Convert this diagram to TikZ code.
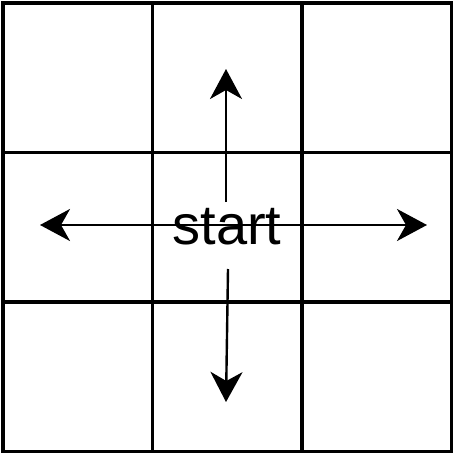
\documentclass[tikz,border=0pt]{standalone}
\usepackage{fontspec}
\setmainfont{Liberation Sans}
\usetikzlibrary{arrows.meta}
\newcommand{\LabelFont}{\fontsize{56}{62}\selectfont}

\begin{document}
\begin{tikzpicture}[x=1pt,y=-1pt,text=black,
  gridline/.style={draw=black,line width=3.2pt,line cap=rect},
  moveline/.style={draw=black,line width=2.4pt,-{Stealth[length=30pt,width=32pt,inset=9pt]}}]
  \useasboundingbox (0,0) rectangle (456,457);
  \foreach \k in {0,...,3} {
    \draw[gridline] ({3+149.5*\k},3) -- ({3+149.5*\k},451.5);
    \draw[gridline] (3,{3+149.5*\k}) -- (451.5,{3+149.5*\k});
  }
  \coordinate (hub) at (227,225);
  \coordinate (upfoot) at (226,202);
  \coordinate (uptip) at (226,69);
  \coordinate (downfoot) at (228,269);
  \coordinate (downtip) at (226,402);
  \coordinate (lefttip) at (40,225);
  \coordinate (righttip) at (427,225);
  \draw[moveline] (upfoot) -- (uptip);
  \draw[moveline] (downfoot) -- (downtip);
  \draw[moveline] (hub) -- (lefttip);
  \draw[moveline] (hub) -- (righttip);
  \node[font=\LabelFont,inner sep=0pt] (start) at (227,227) {start};
\end{tikzpicture}
\end{document}
